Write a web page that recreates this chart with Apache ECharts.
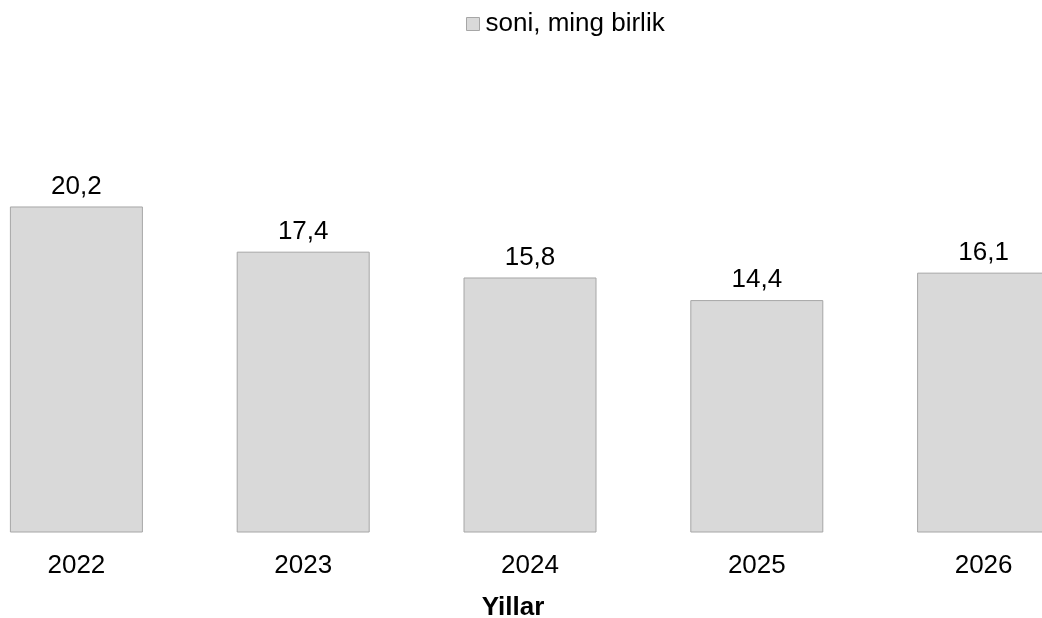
<!DOCTYPE html>
<html><head><meta charset="utf-8">
<script src="https://cdn.jsdelivr.net/npm/echarts@6/dist/echarts.min.js"></script>
<style>
html,body{margin:0;padding:0;background:#fff;width:1042px;height:618px;overflow:hidden;position:relative}
#c{position:absolute;left:-37px;top:0;width:1134px;height:618px}
</style>
</head><body><div id="c"></div>
<script>
const categories = ['2022', '2023', '2024', '2025', '2026'];
const seriesName = 'soni, ming birlik';
const values = [20.2, 17.4, 15.8, 14.4, 16.1];
const axisTitle = 'Yillar';

const FONT = 'Liberation Sans, Arial, sans-serif';
const chart = echarts.init(document.getElementById('c'), null, {renderer: 'canvas'});
chart.setOption({
  animation: false,
  backgroundColor: '#ffffff',
  textStyle: {fontFamily: FONT},
  legend: {
    top: 11, left: 503, padding: 0,
    itemWidth: 13, itemHeight: 13, itemGap: 6,
    icon: 'rect',
    itemStyle: {borderColor: '#a6a6a6', borderWidth: 1},
    textStyle: {fontSize: 26, color: '#000', fontFamily: FONT, padding: [0, 0, 0, 1]},
    data: [seriesName]
  },
  graphic: [{
    type: 'text', x: 550, y: 608,
    style: {text: axisTitle, font: 'bold 26px ' + FONT, fill: '#000', textAlign: 'center', textVerticalAlign: 'middle'}
  }],
  grid: {left: 0, right: 0, top: 129, bottom: 85.5},
  xAxis: {
    type: 'category', data: categories,
    axisLine: {show: false}, axisTick: {show: false},
    axisLabel: {fontSize: 26, color: '#000', margin: 20, fontFamily: FONT}
  },
  yAxis: {type: 'value', min: 0, max: 25, show: false, splitLine: {show: false}},
  series: [{
    name: seriesName, type: 'bar', data: values, barWidth: 133,
    itemStyle: {color: '#d9d9d9', borderColor: '#a6a6a6', borderWidth: 1},
    label: {
      show: true, position: 'top', distance: 7, fontSize: 26, color: '#000',
      fontFamily: FONT,
      formatter: p => String(p.value).replace('.', ',')
    }
  }]
});
</script></body></html>
